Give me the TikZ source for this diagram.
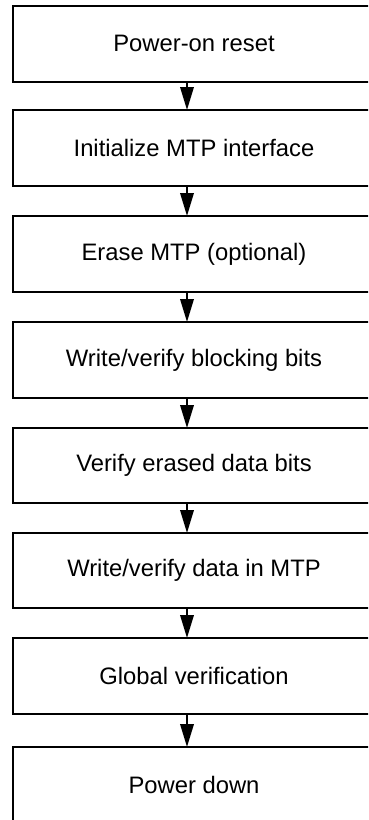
\documentclass[tikz,border=0pt]{standalone}
\usepackage{fontspec}
\setmainfont{Liberation Sans}
\usetikzlibrary{arrows.meta}
\begin{document}
\begin{tikzpicture}[x=1pt,y=-1pt,
  stepbox/.style={draw, line width=2pt, anchor=north west, minimum width=362pt,
    inner sep=0pt, outer sep=0pt, font=\fontsize{23.8}{28}\selectfont},
  flow/.style={line width=2pt, -{Triangle[width=13.5pt,length=23pt]}}]
\path[use as bounding box] (0,0) rectangle (368,820);
\begin{scope}
\clip (0,0) rectangle (368,820);
\node[stepbox, minimum height=75.5pt] (b1) at (13,6)   {Power-on reset};
\node[stepbox, minimum height=76pt]   (b2) at (13,110) {Initialize MTP interface};
\node[stepbox, minimum height=76pt]   (b3) at (13,216) {Erase MTP (optional)};
\node[stepbox, minimum height=76pt]   (b4) at (13,322) {Write/verify blocking bits};
\node[stepbox, minimum height=75pt]   (b5) at (13,428) {Verify erased data bits};
\node[stepbox, minimum height=75pt]   (b6) at (13,533) {Write/verify data in MTP};
\node[stepbox, minimum height=76pt]   (b7) at (13,638) {Global verification};
\node[stepbox, minimum height=76pt]   (b8) at (13,747) {Power down};
\coordinate (ax) at (187,0);
\draw[flow] (b1.south -| ax) -- (b2.north -| ax);
\draw[flow] (b2.south -| ax) -- (b3.north -| ax);
\draw[flow] (b3.south -| ax) -- (b4.north -| ax);
\draw[flow] (b4.south -| ax) -- (b5.north -| ax);
\draw[flow] (b5.south -| ax) -- (b6.north -| ax);
\draw[flow] (b6.south -| ax) -- (b7.north -| ax);
\draw[flow] (b7.south -| ax) -- (b8.north -| ax);
\end{scope}
\end{tikzpicture}
\end{document}
